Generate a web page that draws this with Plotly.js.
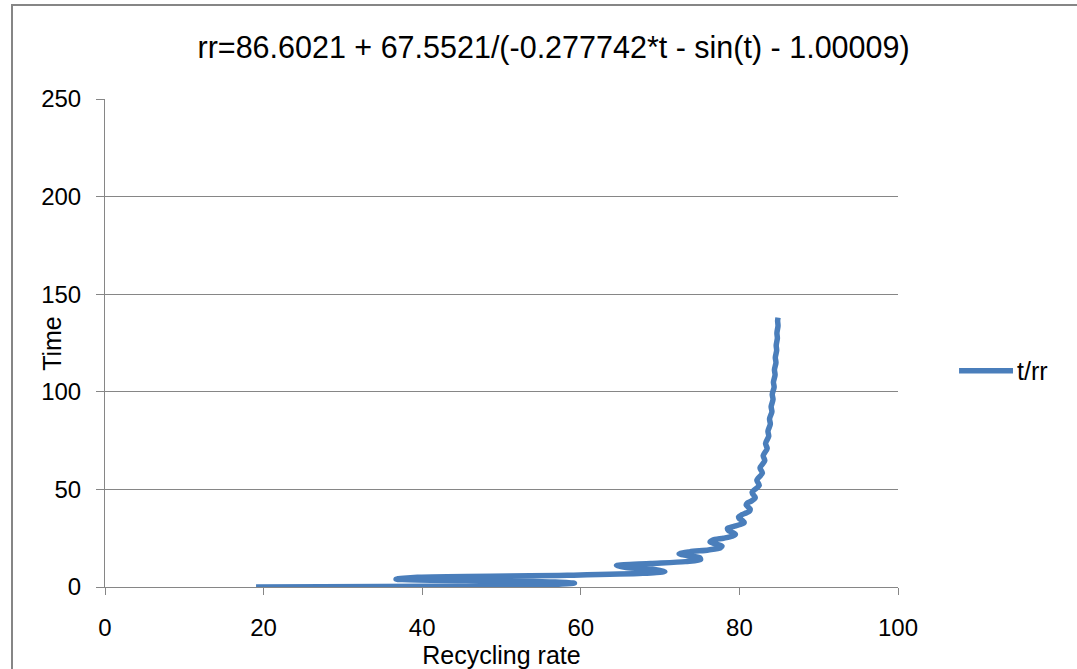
<!DOCTYPE html>
<html>
<head>
<meta charset="utf-8">
<script src="https://cdn.plot.ly/plotly-3.0.1.min.js"></script>
<style>
  html, body { margin: 0; padding: 0; background: #fff; overflow: hidden; }
  #chart { width: 1077px; height: 669px; }
  #frame { position: absolute; left: 11px; top: 4px; width: 1200px; height: 800px; border: 2px solid #868686; box-sizing: border-box; pointer-events: none; }
</style>
</head>
<body>
<div id="chart"></div>
<div id="frame"></div>
<script>
// Time (t) values and recycling rate (rr) values
const timeValues = [0, 1, 2, 3, 4, 5, 6, 7, 8, 9, 10, 11, 12, 13, 14, 15, 16, 17, 18, 19, 20,
  21, 22, 23, 24, 25, 26, 27, 28, 29, 30, 31, 32, 33, 34, 35, 36, 37, 38, 39, 40,
  41, 42, 43, 44, 45.8, 48.4, 52.1, 54.7, 58.4, 61.0, 64.7, 67.3, 71.0, 73.5,
  77.3, 79.8, 83.5, 86.1, 89.8, 92.4, 96.1, 98.7, 102.4, 105.0, 108.7, 111.3,
  115.0, 117.5, 121.2, 123.8, 127.5, 130.1, 133.8, 136.4, 138];
const recyclingRate = [19.05, 54.7, 59.2, 52.4, 36.7, 39.4, 58.3, 67.8, 70.6, 69.3, 65.7,
  64.5, 68.8, 73.2, 75.1, 75.0, 73.5, 72.4, 73.7, 76.1, 77.6,
  77.8, 77.1, 76.3, 76.6, 78.0, 79.1, 79.5, 79.1, 78.6, 78.5, 79.3, 80.1, 80.6, 80.4,
  80.0, 79.9, 80.3, 80.9, 81.3, 81.35,
  81.1, 80.85, 81.0, 81.5, 82.0, 81.6, 82.5, 82.2, 82.9, 82.6, 83.2, 83.0, 83.5, 83.3,
  83.7, 83.6, 83.9, 83.8, 84.1, 84.0, 84.24, 84.14, 84.38, 84.29, 84.5, 84.42,
  84.61, 84.53, 84.7, 84.64, 84.79, 84.73, 84.87, 84.82, 84.87];
const xTicks = [0, 20, 40, 60, 80, 100];
const yTicks = [0, 50, 100, 150, 200, 250];
const seriesName = 't/rr';
const chartTitle = 'rr=86.6021 + 67.5521/(-0.277742*t - sin(t) - 1.00009)';
const xTitle = 'Recycling rate';
const yTitle = 'Time';

const font = 'Liberation Sans, Arial, sans-serif';
const gray = '#868686';
const blue = '#4a7ebb';

const trace = {
  x: recyclingRate,
  y: timeValues,
  type: 'scatter',
  mode: 'lines',
  name: seriesName,
  showlegend: false,
  line: { color: blue, width: 5.5, shape: 'spline', smoothing: 0.8 }
};

const layout = {
  width: 1077, height: 669,
  margin: { l: 105, r: 179, t: 99, b: 82 },
  paper_bgcolor: '#fff', plot_bgcolor: '#fff',
  font: { family: font, color: '#000', size: 22 },
  title: { text: chartTitle, x: 0.514, xanchor: 'center', y: 0.93, yanchor: 'middle',
    font: { family: font, size: 30.5, color: '#000' } },
  // legend drawn as a line sample + label next to the plot
  shapes: [{ type: 'line', xref: 'paper', yref: 'paper', x0: 1.077, x1: 1.145, y0: 0.443, y1: 0.443,
    line: { color: blue, width: 5.5 } }],
  annotations: [
    { text: seriesName, xref: 'paper', yref: 'paper', x: 1.148, y: 0.443,
      xanchor: 'left', yanchor: 'middle', showarrow: false,
      font: { family: font, size: 25, color: '#000' } },
    { text: yTitle, xref: 'paper', yref: 'paper', x: -0.067, y: 0.5, textangle: -90,
      xanchor: 'center', yanchor: 'middle', showarrow: false,
      font: { family: font, size: 25, color: '#000' } }
  ],
  xaxis: {
    range: [0, 100], tickvals: xTicks, ticktext: xTicks.map(String),
    ticks: 'outside', ticklen: 7, tickcolor: gray, tickwidth: 1,
    showgrid: false, zeroline: false, showline: true, linecolor: gray, linewidth: 1,
    tickfont: { family: font, size: 24 }, ticklabelstandoff: 12,
    title: { text: xTitle, font: { family: font, size: 25 }, standoff: 0 },
    fixedrange: true
  },
  yaxis: {
    range: [0, 250], tickvals: yTicks, ticktext: yTicks.map(String),
    ticks: 'outside', ticklen: 8, tickcolor: gray, tickwidth: 1,
    showgrid: true, gridcolor: gray, gridwidth: 1,
    zeroline: false, showline: true, linecolor: gray, linewidth: 1,
    tickfont: { family: font, size: 24 }, ticklabelstandoff: 10,
    fixedrange: true
  }
};

Plotly.newPlot('chart', [trace], layout, { displayModeBar: false, staticPlot: true });
</script>
</body>
</html>
